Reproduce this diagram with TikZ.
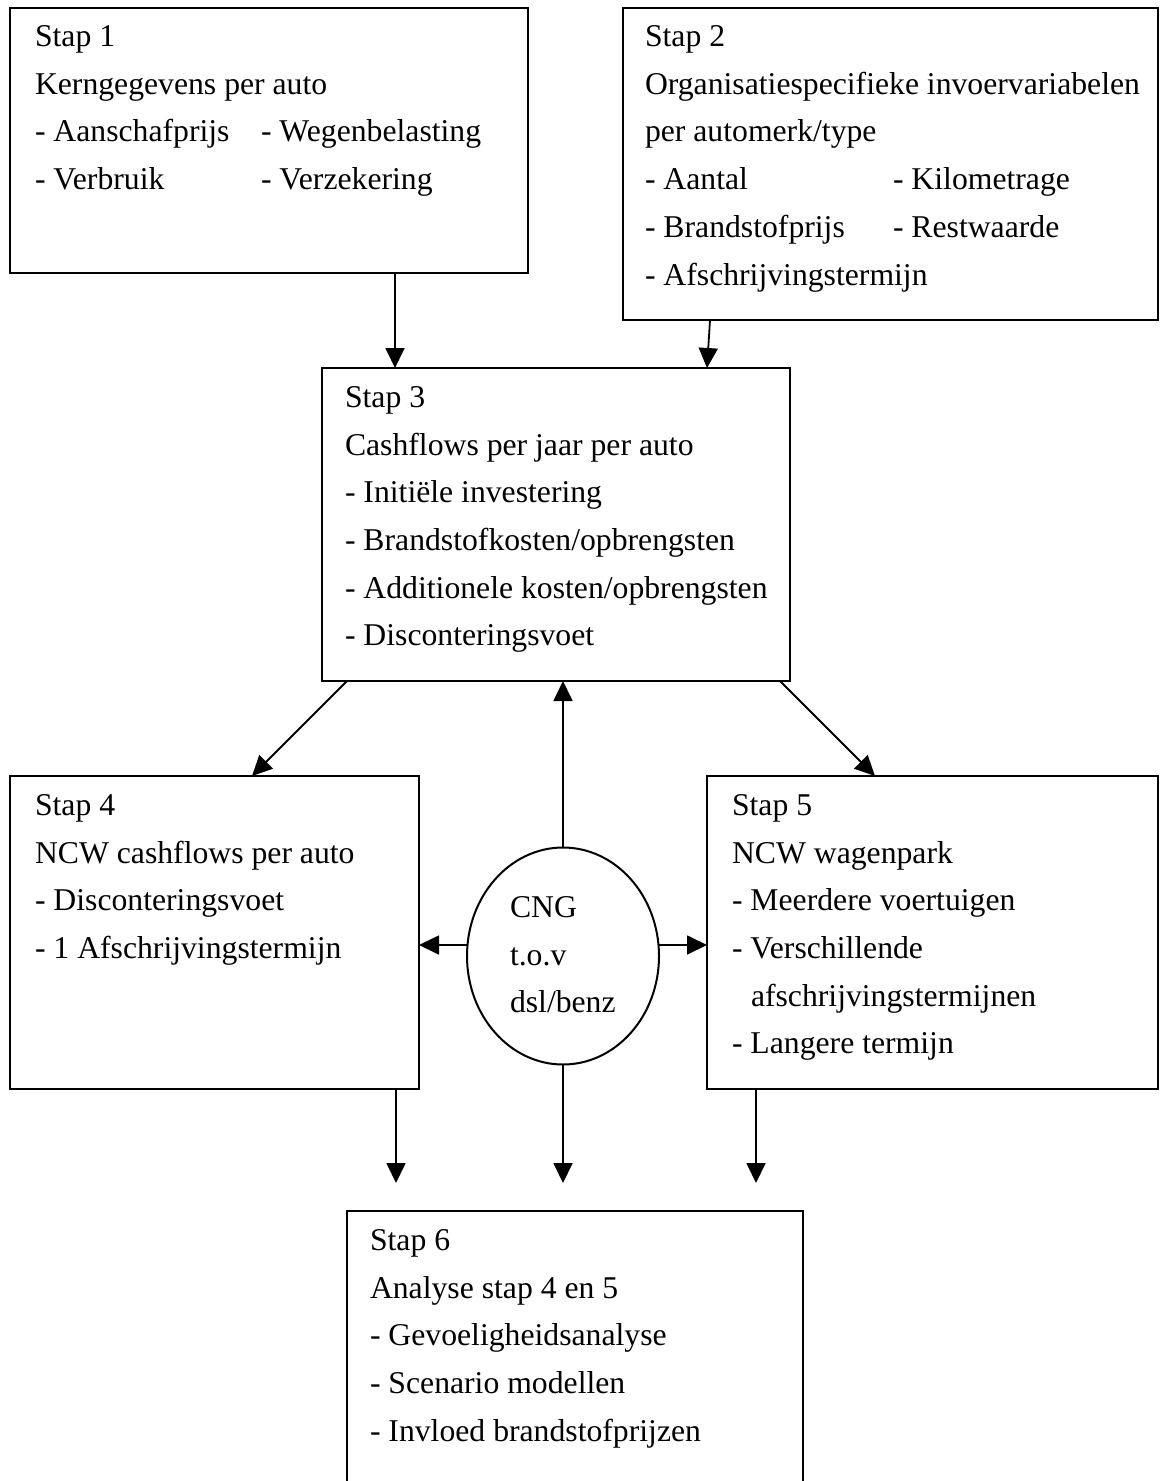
\documentclass[tikz,border=0pt]{standalone}
\usepackage{fontspec}
\setmainfont{Liberation Serif}
\usetikzlibrary{arrows.meta,shapes.geometric}
\begin{document}
\begin{tikzpicture}[x=0.5pt,y=-0.5pt,
  box/.style={draw, line width=1pt, rectangle, inner sep=0pt, outer sep=0pt},
  txt/.style={anchor=base west, inner sep=0pt, outer sep=0pt, font=\fontsize{15.85pt}{24pt}\selectfont},
  arr/.style={line width=0.9pt, -{Triangle[length=10pt,width=9.5pt]}}]
\useasboundingbox (0,0) rectangle (1160,1481);
\clip (0,0) rectangle (1160,1481);
\fill[white] (0,0) rectangle (1160,1481);

% boxes
\node[box, minimum width=259pt, minimum height=132.5pt] (b1) at (269,140.5) {};
\node[box, minimum width=267.5pt, minimum height=156pt] (b2) at (890.5,164) {};
\node[box, minimum width=234pt, minimum height=156.5pt] (b3) at (556,524.5) {};
\node[box, minimum width=204.5pt, minimum height=156.5pt] (b4) at (214.5,932.5) {};
\node[box, minimum width=225.5pt, minimum height=156.5pt] (b5) at (932.5,932.5) {};
\node[box, minimum width=228pt, minimum height=140pt] (b6) at (575,1351) {};
\node[draw, ellipse, line width=1pt, inner sep=0pt, outer sep=0pt, minimum width=96pt, minimum height=108.5pt] (el) at (563,956) {};

% texts box 1
\node[txt] (t1a) at (35,47) {Stap 1};
\node[txt] (t1b) at (35,95) {Kerngegevens per auto};
\node[txt] (t1c) at (35,142) {- Aanschafprijs};
\node[txt] (t1d) at (261,142) {- Wegenbelasting};
\node[txt] (t1e) at (35,190) {- Verbruik};
\node[txt] (t1f) at (261,190) {- Verzekering};

% texts box 2
\node[txt] (t2a) at (645,47) {Stap 2};
\node[txt] (t2b) at (645,95) {Organisatiespecifieke invoervariabelen};
\node[txt] (t2c) at (645,142) {per automerk/type};
\node[txt] (t2d) at (645,190) {- Aantal};
\node[txt] (t2e) at (893,190) {- Kilometrage};
\node[txt] (t2f) at (645,238) {- Brandstofprijs};
\node[txt] (t2g) at (893,238) {- Restwaarde};
\node[txt] (t2h) at (645,286) {- Afschrijvingstermijn};

% texts box 3
\node[txt] (t3a) at (345,407) {Stap 3};
\node[txt] (t3b) at (345,455) {Cashflows per jaar per auto};
\node[txt] (t3c) at (345,502) {- Initiële investering};
\node[txt] (t3d) at (345,550) {- Brandstofkosten/opbrengsten};
\node[txt] (t3e) at (345,598) {- Additionele kosten/opbrengsten};
\node[txt] (t3f) at (345,645) {- Disconteringsvoet};

% texts box 4
\node[txt] (t4a) at (35,815) {Stap 4};
\node[txt] (t4b) at (35,863) {NCW cashflows per auto};
\node[txt] (t4c) at (35,910) {- Disconteringsvoet};
\node[txt] (t4d) at (35,958) {- 1 Afschrijvingstermijn};

% texts box 5
\node[txt] (t5a) at (732,815) {Stap 5};
\node[txt] (t5b) at (732,863) {NCW wagenpark};
\node[txt] (t5c) at (732,910) {- Meerdere voertuigen};
\node[txt] (t5d) at (732,958) {- Verschillende};
\node[txt] (t5e) at (751,1006) {afschrijvingstermijnen};
\node[txt] (t5f) at (732,1053) {- Langere termijn};

% texts ellipse
\node[txt] (tea) at (510,917) {CNG};
\node[txt] (teb) at (510,965) {t.o.v};
\node[txt] (tec) at (510,1012) {dsl/benz};

% texts box 6
\node[txt] (t6a) at (370,1250) {Stap 6};
\node[txt] (t6b) at (370,1298) {Analyse stap 4 en 5};
\node[txt] (t6c) at (370,1345) {- Gevoeligheidsanalyse};
\node[txt] (t6d) at (370,1393) {- Scenario modellen};
\node[txt] (t6e) at (370,1441) {- Invloed brandstofprijzen};

% helper coordinates
\coordinate (x1) at (395,0);
\coordinate (x2a) at (710,0);
\coordinate (x2b) at (707,0);
\coordinate (x3a) at (347,0);
\coordinate (x3b) at (252,0);
\coordinate (x4a) at (780,0);
\coordinate (x4b) at (875,0);
\coordinate (mh) at (0,945);
\coordinate (d1) at (396,1183);
\coordinate (d2) at (563,1183);
\coordinate (d3) at (756,1183);

% connectors
\draw[arr] (b1.south -| x1) -- (b3.north -| x1);
\draw[arr] (b2.south -| x2a) -- (b3.north -| x2b);
\draw[arr] (b3.south -| x3a) -- (b4.north -| x3b);
\draw[arr] (b3.south -| x4a) -- (b5.north -| x4b);
\draw[arr] (el.north) -- (b3.south -| el.north);
\draw[arr] (el.west |- mh) -- (b4.east |- mh);
\draw[arr] (el.east |- mh) -- (b5.west |- mh);
\draw[arr] (b4.south -| d1) -- (d1);
\draw[arr] (el.south) -- (d2);
\draw[arr] (b5.south -| d3) -- (d3);
\end{tikzpicture}
\end{document}
